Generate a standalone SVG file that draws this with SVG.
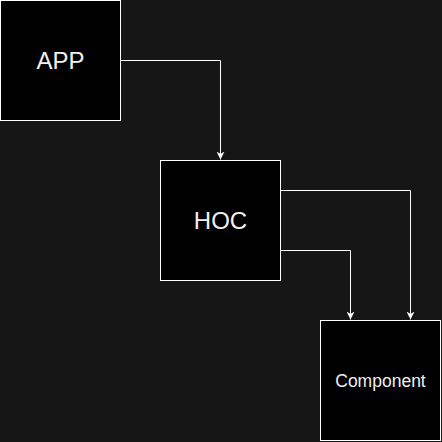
<svg xmlns="http://www.w3.org/2000/svg" width="442" height="442" viewBox="0 0 442 442">
<style>
.box{fill:#000;stroke:#fff;stroke-width:1}
.lbl{fill:#f0f0f0;font-family:"Liberation Sans",Arial,sans-serif;text-anchor:middle}
.edge{fill:none;stroke:#fff;stroke-width:1}
</style>
<defs>
<marker id="arr" viewBox="0 0 10 10" refX="10" refY="5" markerWidth="8" markerHeight="8" markerUnits="userSpaceOnUse" orient="auto">
<path d="M0,0 L10,5 L0,10 L3,5 Z" fill="#fff"/>
</marker>
</defs>
<rect width="442" height="442" fill="#161616"/>
<g id="connectors">
<path class="edge" d="M120.5,60.5 H220.5 V159.5" marker-end="url(#arr)"/>
<path class="edge" d="M280.5,190.5 H410.5 V319.5" marker-end="url(#arr)"/>
<path class="edge" d="M280.5,250.5 H350.5 V319.5" marker-end="url(#arr)"/>
</g>
<g id="app">
<rect class="box" x="0.5" y="0.5" width="120" height="120"/>
<text class="lbl" x="60.5" y="68.5" font-size="24">APP</text>
</g>
<g id="hoc">
<rect class="box" x="160.5" y="160.5" width="120" height="120"/>
<text class="lbl" x="220.5" y="228.5" font-size="24">HOC</text>
</g>
<g id="component">
<rect class="box" x="320.5" y="320.5" width="120" height="120"/>
<text class="lbl" x="380.5" y="386.5" font-size="17.5">Component</text>
</g>
</svg>
